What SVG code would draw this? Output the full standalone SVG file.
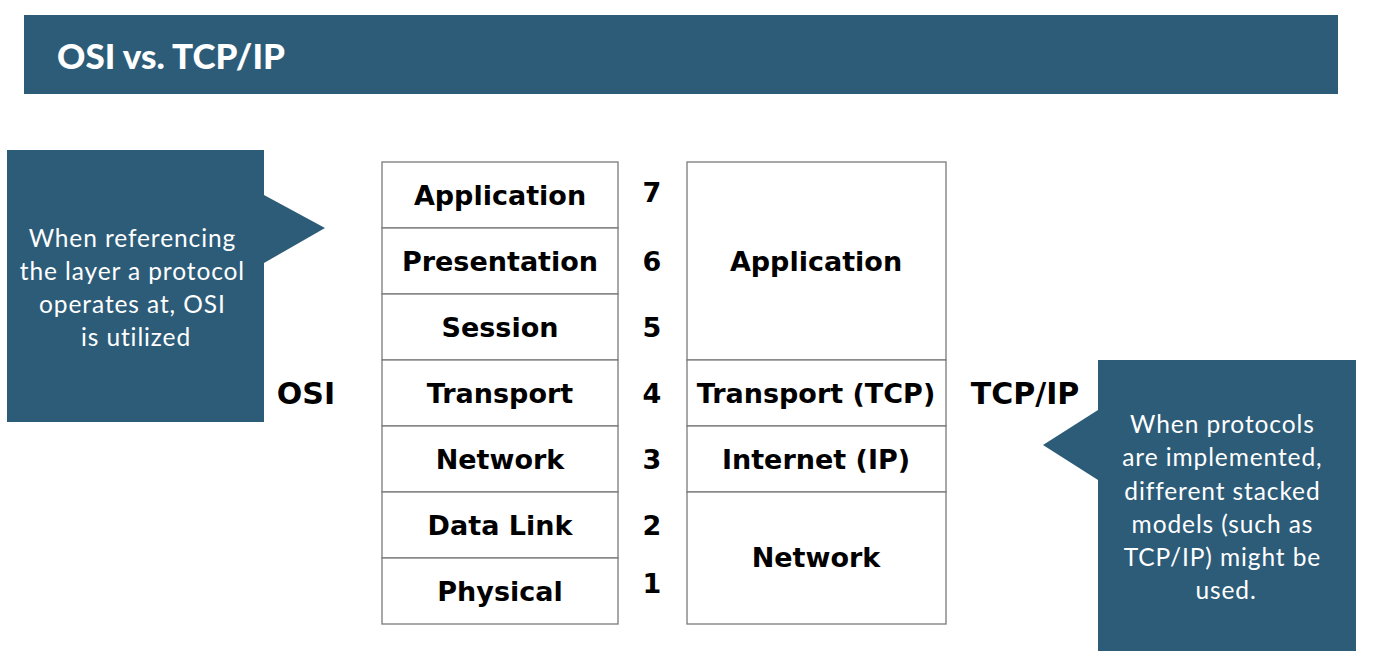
<svg xmlns="http://www.w3.org/2000/svg" width="1373" height="669" viewBox="0 0 1373 669">
  <style>
    .band { fill: #2d5c79; }
    .cell { fill: #ffffff; stroke: #7a7a7a; stroke-width: 1.3; }
    .lbl { font-family: "DejaVu Sans", Verdana, sans-serif; font-weight: bold; font-size: 27px; fill: #000; text-anchor: middle; }
    .big { font-size: 30px; }
    .note { font-family: Lato, "Open Sans", sans-serif; font-size: 24.5px; letter-spacing: 0.9px; fill: #ffffff; text-anchor: middle; }
    .title { font-family: Lato, "Open Sans", sans-serif; font-weight: 900; font-size: 35px; fill: #ffffff; }
  </style>

  <!-- title bar -->
  <g id="header">
    <rect class="band" x="24" y="15" width="1314" height="79"/>
    <text class="title" x="57" y="69">OSI vs. TCP/IP</text>
  </g>

  <!-- left callout -->
  <g id="callout-osi">
    <path class="band" d="M7 150 H264 V195 L325 228 L264 263 V422 H7 Z"/>
    <text class="note">
      <tspan x="136" y="247">When referencing</tspan>
      <tspan x="136" y="280">the layer a protocol</tspan>
      <tspan x="136" y="313">operates at, OSI</tspan>
      <tspan x="136" y="346">is utilized</tspan>
    </text>
  </g>

  <!-- right callout -->
  <g id="callout-tcpip">
    <path class="band" d="M1098 360 H1356 V651 H1098 V480 L1043 445 L1098 410 Z"/>
    <text class="note">
      <tspan x="1226" y="433">When protocols</tspan>
      <tspan x="1226" y="466">are implemented,</tspan>
      <tspan x="1226" y="500">different stacked</tspan>
      <tspan x="1226" y="533">models (such as</tspan>
      <tspan x="1226" y="566">TCP/IP) might be</tspan>
      <tspan x="1226" y="599">used.</tspan>
    </text>
  </g>

  <!-- OSI stack -->
  <g id="osi-stack">
    <g id="osi-7"><rect class="cell" x="382" y="162" width="236" height="66"/><text class="lbl" x="500" y="205">Application</text></g>
    <g id="osi-6"><rect class="cell" x="382" y="228" width="236" height="66"/><text class="lbl" x="500" y="271">Presentation</text></g>
    <g id="osi-5"><rect class="cell" x="382" y="294" width="236" height="66"/><text class="lbl" x="500" y="337">Session</text></g>
    <g id="osi-4"><rect class="cell" x="382" y="360" width="236" height="66"/><text class="lbl" x="500" y="403">Transport</text></g>
    <g id="osi-3"><rect class="cell" x="382" y="426" width="236" height="66"/><text class="lbl" x="500" y="469">Network</text></g>
    <g id="osi-2"><rect class="cell" x="382" y="492" width="236" height="66"/><text class="lbl" x="500" y="535">Data Link</text></g>
    <g id="osi-1"><rect class="cell" x="382" y="558" width="236" height="66"/><text class="lbl" x="500" y="601">Physical</text></g>
  </g>

  <!-- layer numbers -->
  <g id="layer-numbers">
    <text class="lbl" x="652" y="202">7</text>
    <text class="lbl" x="652" y="271">6</text>
    <text class="lbl" x="652" y="337">5</text>
    <text class="lbl" x="652" y="403">4</text>
    <text class="lbl" x="652" y="469">3</text>
    <text class="lbl" x="652" y="535">2</text>
    <text class="lbl" x="652" y="593">1</text>
  </g>

  <!-- TCP/IP stack -->
  <g id="tcpip-stack">
    <g id="tcp-app"><rect class="cell" x="687" y="162" width="259" height="198"/><text class="lbl" x="816" y="271">Application</text></g>
    <g id="tcp-transport"><rect class="cell" x="687" y="360" width="259" height="66"/><text class="lbl" x="816" y="403">Transport (TCP)</text></g>
    <g id="tcp-internet"><rect class="cell" x="687" y="426" width="259" height="66"/><text class="lbl" x="816" y="469">Internet (IP)</text></g>
    <g id="tcp-network"><rect class="cell" x="687" y="492" width="259" height="132"/><text class="lbl" x="816" y="567">Network</text></g>
  </g>

  <!-- model labels -->
  <g id="model-labels">
    <text class="lbl big" x="306" y="404">OSI</text>
    <text class="lbl big" x="1025" y="404">TCP/IP</text>
  </g>
</svg>
